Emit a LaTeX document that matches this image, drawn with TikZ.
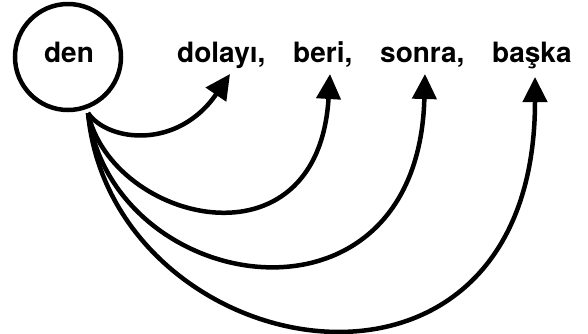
\documentclass[tikz,border=0pt]{standalone}
\usepackage{fontspec}
\setmainfont{TeX Gyre Heros}
\usetikzlibrary{arrows.meta}
\begin{document}
\begin{tikzpicture}[x=1pt,y=-1pt,
  word/.style={font=\fontsize{28}{30}\selectfont\bfseries, inner sep=0pt, anchor=base west},
  conn/.style={line width=4.5pt, -{Triangle[length=25pt,width=24pt]}}]
\useasboundingbox (0,0) rectangle (588,333);
\node[circle, draw, line width=4.5pt, minimum size=106pt, inner sep=0pt] (den) at (68,57) {};
\node[word, anchor=base] (dentext) at (69,62) {den};
\node[word] (w1) at (177,62) {dolayı,};
\node[word] (w2) at (293,62) {beri,};
\node[word] (w3) at (380,62) {sonra,};
\node[word] (w4) at (492,62) {başka};
\coordinate (src) at (88,113);
\coordinate (t1) at (230,74);
\coordinate (t2) at (330,74);
\coordinate (t3) at (425,74);
\coordinate (t4) at (535,77);
\draw[conn] (src) .. controls (108,142) and (178,150) .. (t1);
\draw[conn] (src) .. controls (112,222) and (318,274) .. (t2);
\draw[conn] (src) .. controls (112,296) and (418,346) .. (t3);
\draw[conn] (src) .. controls (112,366) and (535,446) .. (t4);
\end{tikzpicture}
\end{document}
